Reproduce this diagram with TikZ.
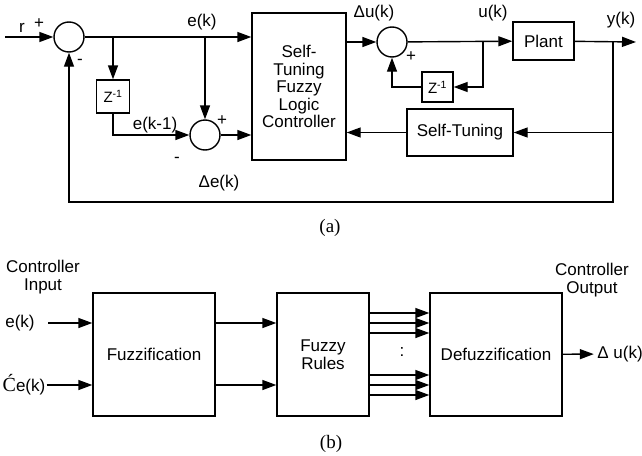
\documentclass[tikz,border=0pt]{standalone}
\usepackage{fontspec}
\setmainfont{Liberation Sans}
\newfontfamily\capfont{Liberation Serif}
\usetikzlibrary{arrows.meta}

\tikzset{
  blk/.style={draw, line width=1.4pt, inner sep=0pt, align=center},
  sumc/.style={draw, circle, line width=1.4pt, minimum size=30pt, inner sep=0pt},
  sig/.style={line width=1.4pt, -{Triangle[length=14pt,width=10pt]}},
  wire/.style={line width=1.4pt}
}

\begin{document}
\begin{tikzpicture}[x=1pt,y=-1pt,font=\fontsize{17}{17.5}\selectfont]
        \useasboundingbox (0,0) rectangle (642,455);

        % Loop (a): blocks
        \node[sumc] (s1) at (69,37) {};
        \node[sumc] (s2) at (205,135) {};
        \node[sumc] (s3) at (392,42) {};
        \node[blk, minimum width=94pt, minimum height=147pt] (flc) at (299,86.5) {Self-\\Tuning\\Fuzzy\\Logic\\Controller};
        \node[blk, minimum width=33pt, minimum height=33pt, font=\fontsize{15}{16}\selectfont] (z1) at (113,96.5) {Z\textsuperscript{-1}};
        \node[blk, minimum width=31pt, minimum height=30pt, font=\fontsize{15}{16}\selectfont] (z2) at (437.5,87) {Z\textsuperscript{-1}};
        \node[blk, minimum width=61pt, minimum height=38pt] (plant) at (543.5,41) {Plant};
        \node[blk, minimum width=106pt, minimum height=47pt] (st) at (460,132.5) {Self-Tuning};
        \coordinate (r) at (5,37);
        \coordinate (b3) at (483,42);
        \coordinate (b4) at (613,42);
        \coordinate (yout) at (636,42);
        \coordinate (fb) at (613,202);

        % Loop (a): signals
        \draw[sig] (r) -- (s1);
        \draw[sig] (s1) -- (flc.west |- s1);
        \draw[sig] (z1 |- s1) -- (z1.north);
        \draw[sig] (s2 |- s1) -- (s2);
        \draw[sig] (z1.south) |- (s2.west);
        \draw[sig] (s2) -- (flc.west |- s2);
        \draw[sig] (flc.east |- s3) -- (s3);
        \draw[sig] (s3) -- (plant);
        \draw[sig] (plant) -- (yout);
        \draw[sig] (b3) |- (z2.east);
        \draw[sig] (z2.west) -| (s3.south);
        \draw[sig] (b4) |- (st.east);
        \draw[sig] (b4) -- (fb) -| (s1.south);
        \draw[sig] (st.west) -- (flc.east |- st);

        % Loop (a): labels
        \node at (22,28) {r};
        \node at (39,24) {+};
        \node at (80,62) {-};
        \node at (202,22) {e(k)};
        \node at (155,125) {e(k-1)};
        \node at (222,121) {+};
        \node at (177,160) {-};
        \node at (219,183) {Δe(k)};
        \node at (374,13) {Δu(k)};
        \node at (493,13) {u(k)};
        \node at (411,57) {+};
        \node at (621,20) {y(k)};
        \node[font=\capfont\fontsize{19}{19}\selectfont] at (330,228) {(a)};

        % Controller (b): blocks
        \node[blk, minimum width=122pt, minimum height=123pt] (fz) at (154,354.5) {Fuzzification};
        \node[blk, minimum width=92pt, minimum height=123pt] (fr) at (323,354.5) {Fuzzy\\Rules};
        \node[blk, minimum width=132pt, minimum height=123pt] (dfz) at (496,354.5) {Defuzzification};
        \node (ek) at (20,323) {e(k)};
        \node[inner sep=1pt] (cek) at (24,385) {{\capfont\fontsize{20}{20}\selectfont Ć}e(k)};
        \node (du) at (620,354) {Δ u(k)};

        % Controller (b): signals
        \draw[sig] ([xshift=10pt]ek.east) -- (fz.west |- ek);
        \draw[sig] (cek.east) -- (fz.west |- cek);
        \draw[sig] (fz.east |- ek) -- (fr.west |- ek);
        \draw[sig] (fz.east |- cek) -- (fr.west |- cek);
        \foreach \y in {313,323,333,375,385,395}
          \draw[sig] (fr.east |- 0,\y) -- (dfz.west |- 0,\y);
        \draw[sig] (dfz) -- (du);

        % Controller (b): labels
        \node at (402,352) {:};
        \node[align=center] at (43,277) {Controller\\Input};
        \node[align=center] at (592,280) {Controller\\Output};
        \node[font=\capfont\fontsize{19}{19}\selectfont] at (331,444) {(b)};
\end{tikzpicture}
\end{document}
